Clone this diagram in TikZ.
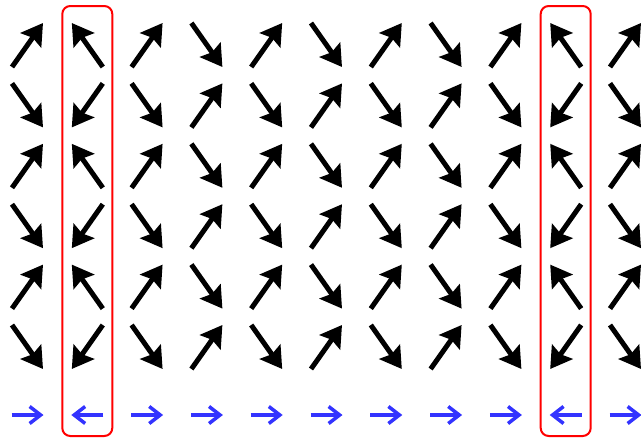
\documentclass[tikz,border=0pt]{standalone}
\usepackage{xcolor}
\usepackage{tikz}
\usetikzlibrary{arrows.meta,positioning,calc}

\definecolor{waveblue}{RGB}{51,51,255}

\begin{document}
\begin{tikzpicture}[
  x=1pt, y=-1pt,
  spin/.style={line width=5pt, -{Stealth[length=21pt,width=25pt,inset=3pt]}},
  wave/.style={line width=3.5pt, waveblue, -{Straight Barb[length=11pt,width=17pt]}},
  flip/.style={draw=red, line width=2pt, rounded corners=8pt, minimum width=50pt, minimum height=430pt, inner sep=0pt}
]
\useasboundingbox (0,0) rectangle (641,439);

% column / horizontal sign / vertical sign of the top spin
\foreach \c/\sx/\sy in {0/1/1, 1/-1/1, 2/1/1, 3/1/-1, 4/1/1, 5/1/-1, 6/1/1, 7/1/-1, 8/1/1, 9/-1/1, 10/1/1} {
  \foreach \r in {0,...,5} {
    \pgfmathsetmacro{\vy}{\sy*(1-2*mod(\r,2))}
    \coordinate (tail-\c-\r) at ({27.5+59.8*\c-15.5*\sx}, {45+60.4*\r+22*\vy});
    \coordinate (tip-\c-\r) at ({27.5+59.8*\c+15.5*\sx}, {45+60.4*\r-22*\vy});
    \draw[spin] (tail-\c-\r) -- (tip-\c-\r);
  }
  \coordinate (wtail-\c) at ({27.5+59.8*\c-16*\sx}, 415);
  \coordinate (wtip-\c) at ({27.5+59.8*\c+16*\sx}, 415);
  \draw[wave] (wtail-\c) -- (wtip-\c);
}

% flipped columns
\foreach \c in {1,9}
  \node[flip] (flip\c) at ({27.5+59.8*\c}, 221) {};
\end{tikzpicture}
\end{document}
